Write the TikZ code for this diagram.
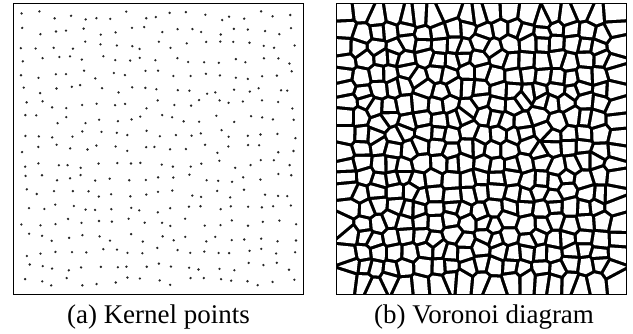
\documentclass[tikz,border=0pt]{standalone}
\usepackage{fontspec}
\setmainfont{Liberation Serif}
\begin{document}
\begin{tikzpicture}[x=1pt,y=1pt,
  frame/.style={draw=black,line width=0.8pt},
  kdot/.style={fill=black!85},
  cell/.style={fill=white},
  caption/.style={font=\fontsize{27}{32}\selectfont,anchor=base,inner sep=0pt}]
\useasboundingbox (0,0) rectangle (633,333);
\pgfmathsetseed{20231}
% kernel points (left panel)
\foreach \i in {0,...,18}{
  \foreach \j in {0,...,18}{
    \pgfmathsetmacro\xx{12+\i*14.8+4.5*rand}
    \pgfmathsetmacro\yy{12+\j*14.8+4.5*rand}
    \expandafter\xdef\csname kx-\i-\j\endcsname{\xx}
    \expandafter\xdef\csname ky-\i-\j\endcsname{\yy}
    \fill[kdot] ({13.3+\xx},{39+\yy}) circle (1.3);
  }
}
% Voronoi diagram (right panel)
\begin{scope}[shift={(336,39)}]
  \clip (0,0) rectangle (290.5,290.5);
  \fill[black] (0,0) rectangle (290.5,290.5);
  \foreach \i in {0,...,18}{
    \foreach \j in {0,...,18}{
      \begin{scope}
        \edef\xa{\csname kx-\i-\j\endcsname}
        \edef\ya{\csname ky-\i-\j\endcsname}
        \foreach \di/\dj in {-1/-1,-1/0,-1/1,0/-1,0/1,1/-1,1/0,1/1}{
          \pgfmathtruncatemacro\nbi{\i+\di}
          \pgfmathtruncatemacro\nbj{\j+\dj}
          \ifnum\nbi>-1 \ifnum\nbi<19 \ifnum\nbj>-1 \ifnum\nbj<19
            \edef\xb{\csname kx-\nbi-\nbj\endcsname}
            \edef\yb{\csname ky-\nbi-\nbj\endcsname}
            \pgfmathsetmacro\ang{atan2(\yb-\ya,\xb-\xa)}
            \pgfmathsetmacro\hh{0.5*veclen(\xb-\xa,\yb-\ya)-1.65}
            \clip[shift={(\xa,\ya)},rotate=\ang] (\hh,-70) -- (\hh,70) -- ({\hh-100},70) -- ({\hh-100},-70) -- cycle;
          \fi\fi\fi\fi
        }
        \fill[cell] (0,0) rectangle (290.5,290.5);
      \end{scope}
    }
  }
\end{scope}
\draw[frame] (13.3,39) rectangle (303.8,329.5);
\draw[frame] (336,39) rectangle (626.5,329.5);
\node[caption] (capa) at (158.5,10) {(a) Kernel points};
\node[caption] (capb) at (484,10) {(b) Voronoi diagram};
\end{tikzpicture}
\end{document}
